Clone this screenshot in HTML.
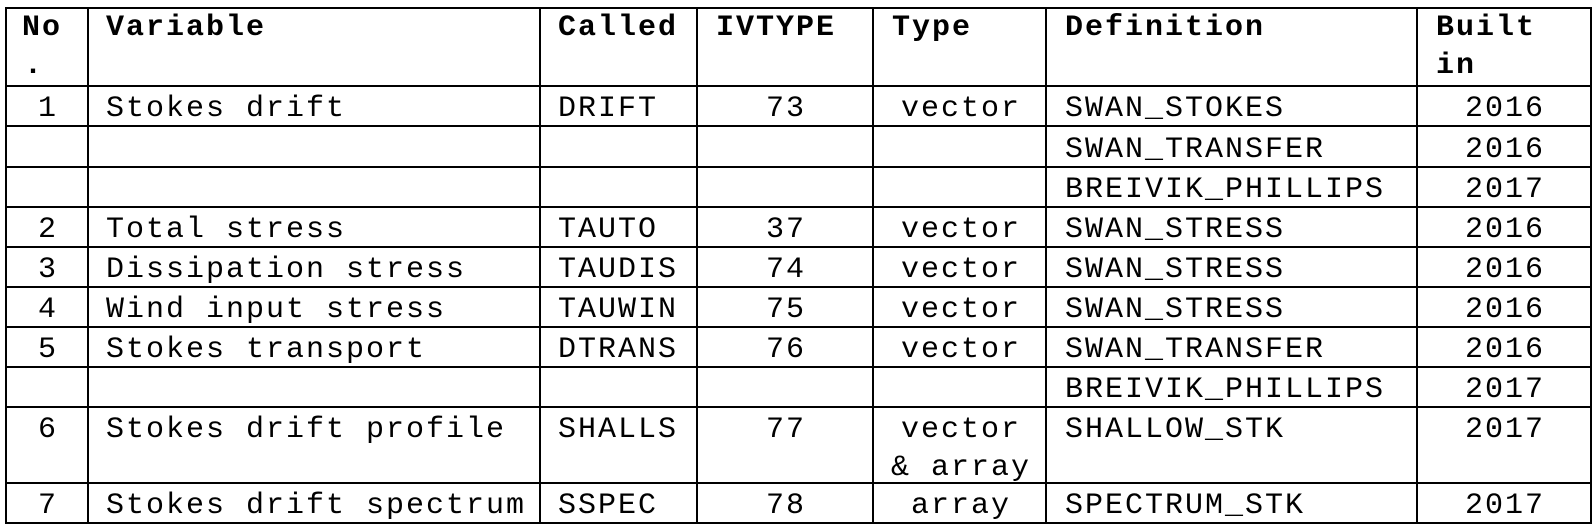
<!DOCTYPE html>
<html><head><meta charset="utf-8"><style>
html,body{margin:0;padding:0;background:#fff;}
svg{display:block;}
text{font-family:"Liberation Mono","Courier New",monospace;font-size:30px;letter-spacing:2px;fill:#000;}
.b{font-weight:bold;}
</style></head><body>
<svg width="1595" height="531" viewBox="0 0 1595 531" xmlns="http://www.w3.org/2000/svg">
<g stroke="#000" stroke-width="2">
<line x1="5" y1="8" x2="1592" y2="8"/>
<line x1="5" y1="86" x2="1592" y2="86"/>
<line x1="5" y1="126" x2="1592" y2="126"/>
<line x1="5" y1="167" x2="1592" y2="167"/>
<line x1="5" y1="207" x2="1592" y2="207"/>
<line x1="5" y1="247" x2="1592" y2="247"/>
<line x1="5" y1="287" x2="1592" y2="287"/>
<line x1="5" y1="327" x2="1592" y2="327"/>
<line x1="5" y1="367" x2="1592" y2="367"/>
<line x1="5" y1="407" x2="1592" y2="407"/>
<line x1="5" y1="483" x2="1592" y2="483"/>
<line x1="5" y1="523" x2="1592" y2="523"/>
<line x1="6" y1="7" x2="6" y2="524"/>
<line x1="88" y1="7" x2="88" y2="524"/>
<line x1="540" y1="7" x2="540" y2="524"/>
<line x1="697" y1="7" x2="697" y2="524"/>
<line x1="873" y1="7" x2="873" y2="524"/>
<line x1="1046" y1="7" x2="1046" y2="524"/>
<line x1="1417" y1="7" x2="1417" y2="524"/>
<line x1="1591" y1="7" x2="1591" y2="524"/>
</g>
<g>
<text class="b" x="22" y="35">No</text>
<text class="b" x="24" y="73">.</text>
<text class="b" x="106" y="35">Variable</text>
<text class="b" x="558" y="35">Called</text>
<text class="b" x="716" y="35">IVTYPE</text>
<text class="b" x="892" y="35">Type</text>
<text class="b" x="1065" y="35">Definition</text>
<text class="b" x="1436" y="35">Built</text>
<text class="b" x="1436" y="73">in</text>
</g>
<g>
<text x="48" y="116" text-anchor="middle">1</text>
<text x="106" y="116">Stokes drift</text>
<text x="558" y="116">DRIFT</text>
<text x="786" y="116" text-anchor="middle">73</text>
<text x="961" y="116" text-anchor="middle">vector</text>
<text x="1065" y="116">SWAN_STOKES</text>
<text x="1505" y="116" text-anchor="middle">2016</text>

<text x="1065" y="157">SWAN_TRANSFER</text>
<text x="1505" y="157" text-anchor="middle">2016</text>

<text x="1065" y="197">BREIVIK_PHILLIPS</text>
<text x="1505" y="197" text-anchor="middle">2017</text>

<text x="48" y="237" text-anchor="middle">2</text>
<text x="106" y="237">Total stress</text>
<text x="558" y="237">TAUTO</text>
<text x="786" y="237" text-anchor="middle">37</text>
<text x="961" y="237" text-anchor="middle">vector</text>
<text x="1065" y="237">SWAN_STRESS</text>
<text x="1505" y="237" text-anchor="middle">2016</text>

<text x="48" y="277" text-anchor="middle">3</text>
<text x="106" y="277">Dissipation stress</text>
<text x="558" y="277">TAUDIS</text>
<text x="786" y="277" text-anchor="middle">74</text>
<text x="961" y="277" text-anchor="middle">vector</text>
<text x="1065" y="277">SWAN_STRESS</text>
<text x="1505" y="277" text-anchor="middle">2016</text>

<text x="48" y="317" text-anchor="middle">4</text>
<text x="106" y="317">Wind input stress</text>
<text x="558" y="317">TAUWIN</text>
<text x="786" y="317" text-anchor="middle">75</text>
<text x="961" y="317" text-anchor="middle">vector</text>
<text x="1065" y="317">SWAN_STRESS</text>
<text x="1505" y="317" text-anchor="middle">2016</text>

<text x="48" y="357" text-anchor="middle">5</text>
<text x="106" y="357">Stokes transport</text>
<text x="558" y="357">DTRANS</text>
<text x="786" y="357" text-anchor="middle">76</text>
<text x="961" y="357" text-anchor="middle">vector</text>
<text x="1065" y="357">SWAN_TRANSFER</text>
<text x="1505" y="357" text-anchor="middle">2016</text>

<text x="1065" y="397">BREIVIK_PHILLIPS</text>
<text x="1505" y="397" text-anchor="middle">2017</text>

<text x="48" y="437" text-anchor="middle">6</text>
<text x="106" y="437">Stokes drift profile</text>
<text x="558" y="437">SHALLS</text>
<text x="786" y="437" text-anchor="middle">77</text>
<text x="961" y="437" text-anchor="middle">vector</text>
<text x="961" y="475" text-anchor="middle">&amp; array</text>
<text x="1065" y="437">SHALLOW_STK</text>
<text x="1505" y="437" text-anchor="middle">2017</text>

<text x="48" y="513" text-anchor="middle">7</text>
<text x="106" y="513">Stokes drift spectrum</text>
<text x="558" y="513">SSPEC</text>
<text x="786" y="513" text-anchor="middle">78</text>
<text x="961" y="513" text-anchor="middle">array</text>
<text x="1065" y="513">SPECTRUM_STK</text>
<text x="1505" y="513" text-anchor="middle">2017</text>
</g>
</svg>
</body></html>
